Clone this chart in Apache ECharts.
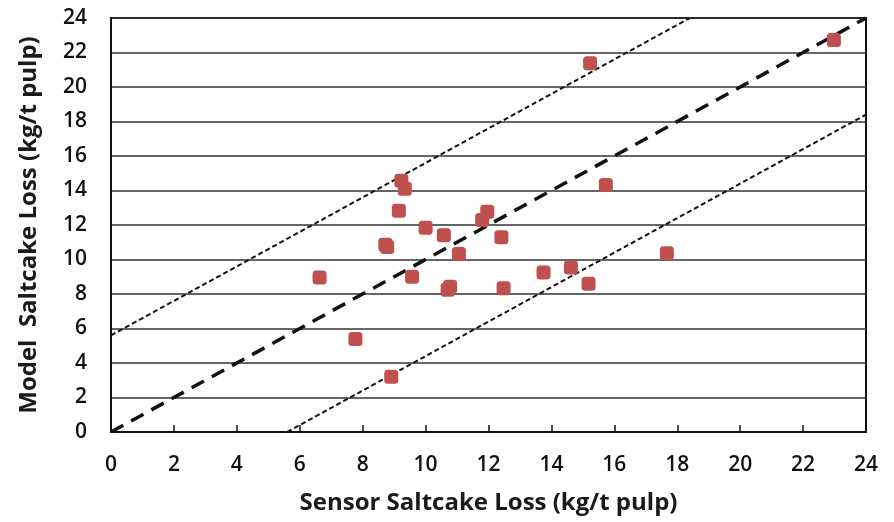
<!DOCTYPE html>
<html>
<head>
<meta charset="utf-8">
<script src="https://cdn.jsdelivr.net/npm/echarts@6/dist/echarts.min.js"></script>
<style>
  html, body { margin: 0; padding: 0; background: #fff; }
  #main { width: 894px; height: 522px; }
</style>
</head>
<body>
<div id="main"></div>
<script>
// sensor (x) vs model (y) saltcake loss, kg/t pulp
var sensorLoss = [9.23, 9.34, 9.15, 10.0, 10.58, 8.72, 8.78, 11.06, 11.96, 11.8, 12.41, 15.73,
                  6.63, 9.57, 10.7, 10.78, 12.48, 13.75, 14.62, 15.18, 7.77, 8.91, 15.23, 22.98, 17.67];
var modelLoss  = [14.57, 14.1, 12.83, 11.84, 11.4, 10.85, 10.72, 10.32, 12.77, 12.29, 11.29, 14.32,
                  8.95, 9.0, 8.25, 8.42, 8.33, 9.24, 9.53, 8.6, 5.39, 3.21, 21.37, 22.72, 10.36];
var axisTicks = [0, 2, 4, 6, 8, 10, 12, 14, 16, 18, 20, 22, 24];
var band = 5.6; // offset of the two outer guide lines

var axisMin = axisTicks[0], axisMax = axisTicks[axisTicks.length - 1];
var points = sensorLoss.map(function (x, i) { return [x, modelLoss[i]]; });
var parity = [[axisMin, axisMin], [axisMax, axisMax]];
var upper = [[axisMin, axisMin + band], [axisMax - band, axisMax]];
var lower = [[axisMin + band, axisMin], [axisMax, axisMax - band]];

var font = 'Open Sans';
var myChart = echarts.init(document.getElementById('main'));
var option = {
    animation: false,
    grid: { left: 111, right: 28, top: 18, bottom: 90, containLabel: false,
            outerBoundsMode: 'none',
            show: true, borderColor: '#111', borderWidth: 2 },
    xAxis: {
        type: 'value', min: axisMin, max: axisMax, interval: 2,
        name: 'Sensor Saltcake Loss (kg/t pulp)', nameLocation: 'middle', nameGap: 59,
        nameTextStyle: { fontFamily: font, fontSize: 24, fontWeight: 'bold', color: '#1a1a1a' },
        axisLine: { show: true, lineStyle: { color: '#111', width: 2 } },
        axisTick: { show: true, inside: true, length: 7, lineStyle: { color: '#111', width: 1.5 } },
        axisLabel: { fontFamily: font, fontSize: 21, fontWeight: 600, color: '#111', margin: 23 },
        splitLine: { show: false }
    },
    yAxis: {
        type: 'value', min: axisMin, max: axisMax, interval: 2,
        name: 'Model  Saltcake Loss (kg/t pulp)', nameLocation: 'middle', nameGap: 70,
        nameTextStyle: { fontFamily: font, fontSize: 24, fontWeight: 'bold', color: '#1a1a1a' },
        axisLine: { show: true, lineStyle: { color: '#111', width: 2 } },
        axisTick: { show: false },
        axisLabel: { fontFamily: font, fontSize: 21, fontWeight: 600, color: '#111', margin: 24 },
        splitLine: { show: true, lineStyle: { color: '#333', width: 1.5 } }
    },
    series: [
        { type: 'line', data: upper, symbol: 'none', silent: true,
          lineStyle: { color: '#111', width: 2, type: [5, 3] } },
        { type: 'line', data: lower, symbol: 'none', silent: true,
          lineStyle: { color: '#111', width: 2, type: [5, 3] } },
        { type: 'line', data: parity, symbol: 'none', silent: true,
          lineStyle: { color: '#111', width: 3.5, type: [14, 9] } },
        { type: 'scatter', data: points, symbol: 'roundRect', symbolSize: 14,
          itemStyle: { color: '#c0504d', opacity: 1 }, z: 5 }
    ]
};
myChart.setOption(option);
</script>
</body>
</html>
